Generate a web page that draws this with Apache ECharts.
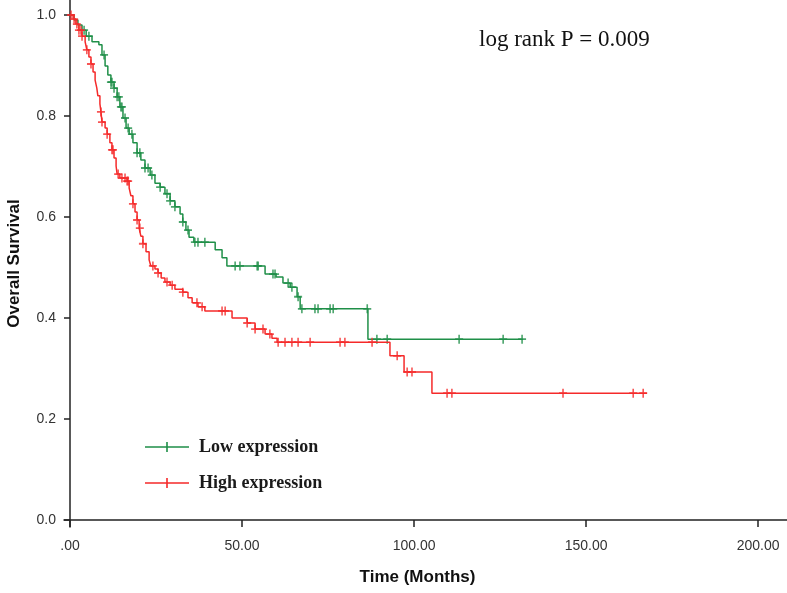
<!DOCTYPE html>
<html>
<head>
<meta charset="utf-8">
<script src="https://cdn.jsdelivr.net/npm/echarts@6/dist/echarts.min.js"></script>
<style>html,body{margin:0;padding:0;background:#fff}#c{width:787px;height:593px}</style>
</head>
<body>
<div id="c"></div>
<script>
// Kaplan-Meier step points (time in months, survival after event)
const lowTimes = [0, 1.2, 2.3, 3.5, 4.7, 6.4, 8.4, 9.3, 10.2, 11.0, 11.9, 12.8, 13.7, 14.5, 15.4, 16.3, 17.2, 18.3, 19.5, 20.6, 21.8, 23.3, 24.7, 26.2, 27.6, 29.1, 30.5, 32.0, 32.8, 33.7, 34.6, 36.0, 42.2, 44.2, 45.6, 56.7, 59.9, 61.9, 64.0, 66.0, 66.9, 86.6, 131.7];
const lowSurv  = [1.000, 0.990, 0.980, 0.970, 0.958, 0.947, 0.941, 0.921, 0.899, 0.881, 0.867, 0.855, 0.838, 0.818, 0.796, 0.776, 0.764, 0.747, 0.727, 0.713, 0.697, 0.683, 0.667, 0.659, 0.646, 0.632, 0.620, 0.606, 0.590, 0.574, 0.560, 0.550, 0.535, 0.519, 0.503, 0.487, 0.481, 0.469, 0.461, 0.442, 0.418, 0.358, 0.358];
const lowCensor = [4.1, 5.5, 9.9, 11.9, 12.2, 12.8, 13.7, 14.2, 14.8, 15.1, 16.0, 16.9, 18.0, 19.5, 20.3, 21.8, 22.7, 23.8, 26.2, 28.2, 29.1, 30.5, 32.8, 34.3, 36.3, 37.2, 39.2, 48.0, 49.4, 54.4, 54.7, 59.0, 59.6, 63.4, 64.5, 66.3, 67.4, 71.2, 72.1, 75.6, 76.5, 86.4, 89.2, 92.2, 113.1, 125.9, 131.4];

const highTimes = [0, 0.9, 1.7, 2.6, 3.5, 4.4, 4.9, 5.5, 6.1, 6.7, 7.3, 7.8, 8.1, 8.7, 9.0, 9.3, 10.2, 10.8, 11.6, 12.2, 12.8, 13.4, 13.7, 14.5, 16.6, 17.2, 17.7, 18.3, 18.9, 19.5, 20.1, 20.6, 21.2, 22.1, 23.0, 23.5, 24.7, 25.6, 26.5, 27.6, 29.1, 30.5, 32.8, 34.3, 35.5, 37.2, 39.2, 47.1, 51.5, 53.8, 56.7, 58.7, 60.2, 93.0, 97.1, 105.2, 167.7];
const highSurv  = [1.000, 0.992, 0.982, 0.970, 0.958, 0.947, 0.931, 0.917, 0.903, 0.887, 0.871, 0.855, 0.840, 0.824, 0.808, 0.788, 0.776, 0.764, 0.747, 0.733, 0.717, 0.701, 0.685, 0.677, 0.671, 0.657, 0.642, 0.626, 0.610, 0.594, 0.578, 0.562, 0.547, 0.531, 0.515, 0.503, 0.497, 0.489, 0.479, 0.471, 0.465, 0.457, 0.451, 0.440, 0.430, 0.422, 0.414, 0.400, 0.390, 0.378, 0.368, 0.360, 0.352, 0.325, 0.293, 0.251, 0.251];
const highCensor = [0.3, 1.2, 2.0, 2.6, 3.2, 3.5, 4.9, 6.1, 9.0, 9.3, 10.8, 12.2, 12.5, 14.0, 15.1, 16.0, 16.6, 16.9, 18.3, 19.5, 20.3, 21.2, 24.1, 25.6, 28.2, 29.7, 32.8, 36.9, 38.4, 44.2, 45.1, 51.5, 53.8, 56.1, 58.1, 60.5, 62.5, 64.5, 66.3, 69.8, 78.5, 79.9, 87.8, 95.1, 98.0, 99.4, 109.6, 111.0, 143.3, 163.7, 166.6];

const seriesNames = ['Low expression', 'High expression'];
const xTickValues = [0, 50, 100, 150, 200];
const xTickLabels = ['.00', '50.00', '100.00', '150.00', '200.00'];
const yTickValues = [0, 0.2, 0.4, 0.6, 0.8, 1.0];
const yTickLabels = ['0.0', '0.2', '0.4', '0.6', '0.8', '1.0'];
const annotation = 'log rank P = 0.009';
const xName = 'Time (Months)';
const yName = 'Overall Survival';

const GREEN = '#1f8f48';
const RED = '#f52a2a';
const PLUS = 'path://M-0.2,-1H0.2V-0.2H1V0.2H0.2V1H-0.2V0.2H-1V-0.2H-0.2Z';
const LEGEND_ICON = 'path://M0,4.3H44V5.7H0Z M21.2,0H22.8V10H21.2Z';

function zip(a, b) { return a.map((v, i) => [v, b[i]]); }
function survAt(times, surv, t) {
  let s = surv[0];
  for (let i = 0; i < times.length; i++) { if (times[i] <= t) s = surv[i]; else break; }
  return s;
}

const chart = echarts.init(document.getElementById('c'), null, { renderer: 'canvas' });
chart.setOption({
  animation: false,
  backgroundColor: '#fff',
  grid: { left: 64, right: 0, top: 0, bottom: 66, containLabel: false, outerBoundsMode: 'none' },
  title: {
    text: annotation, left: 474, top: 23,
    textStyle: { fontFamily: 'Liberation Serif', fontWeight: 'normal', fontSize: 23, color: '#111' }
  },
  legend: {
    orient: 'vertical', left: 140, top: 433, itemWidth: 44, itemHeight: 10, itemGap: 18,
    data: [{ name: seriesNames[0], icon: LEGEND_ICON }, { name: seriesNames[1], icon: LEGEND_ICON }],
    textStyle: { fontFamily: 'Liberation Serif', fontWeight: 'bold', fontSize: 18, color: '#1a1a1a', padding: [0, 0, 0, 5] }
  },
  xAxis: {
    type: 'value', min: -1.74, max: 208.4,
    name: xName, nameLocation: 'middle', nameGap: 42,
    nameTextStyle: { fontFamily: 'Liberation Sans', fontWeight: 'bold', fontSize: 17, color: '#111', padding: [0, 16, 0, 0] },
    axisLine: { show: true, lineStyle: { color: '#222', width: 1.5 } },
    axisTick: { show: true, customValues: xTickValues, length: 7, lineStyle: { color: '#222', width: 1.5 } },
    axisLabel: {
      customValues: xTickValues, margin: 12,
      fontFamily: 'Liberation Sans', fontSize: 14, color: '#333',
      formatter: v => xTickLabels[xTickValues.indexOf(v)] ?? ''
    },
    splitLine: { show: false }
  },
  yAxis: {
    type: 'value', min: -0.014, max: 1.0297,
    name: yName, nameLocation: 'middle', nameGap: 41, nameRotate: 90,
    nameTextStyle: { fontFamily: 'Liberation Sans', fontWeight: 'bold', fontSize: 17, color: '#111' },
    axisLine: { show: true, lineStyle: { color: '#222', width: 1.5 } },
    axisTick: { show: true, customValues: yTickValues, length: 6, lineStyle: { color: '#222', width: 1.5 } },
    axisLabel: {
      customValues: yTickValues, margin: 8,
      fontFamily: 'Liberation Sans', fontSize: 14, color: '#333',
      formatter: v => { const i = yTickValues.findIndex(x => Math.abs(x - v) < 1e-6); return i >= 0 ? yTickLabels[i] : ''; }
    },
    splitLine: { show: false }
  },
  series: [
    {
      name: seriesNames[0], type: 'line', step: 'end', symbol: 'none',
      data: zip(lowTimes, lowSurv), color: GREEN,
      lineStyle: { color: GREEN, width: 1.5 }, itemStyle: { color: GREEN }, z: 2
    },
    {
      name: 'low-censor', type: 'scatter', symbol: PLUS, symbolSize: [8, 9],
      data: lowCensor.map(t => [t, survAt(lowTimes, lowSurv, t)]),
      itemStyle: { color: GREEN }, z: 3
    },
    {
      name: seriesNames[1], type: 'line', step: 'end', symbol: 'none',
      data: zip(highTimes, highSurv), color: RED,
      lineStyle: { color: RED, width: 1.5 }, itemStyle: { color: RED }, z: 4
    },
    {
      name: 'high-censor', type: 'scatter', symbol: PLUS, symbolSize: [8, 9],
      data: highCensor.map(t => [t, survAt(highTimes, highSurv, t)]),
      itemStyle: { color: RED }, z: 5
    }
  ]
});
</script>
</body>
</html>
